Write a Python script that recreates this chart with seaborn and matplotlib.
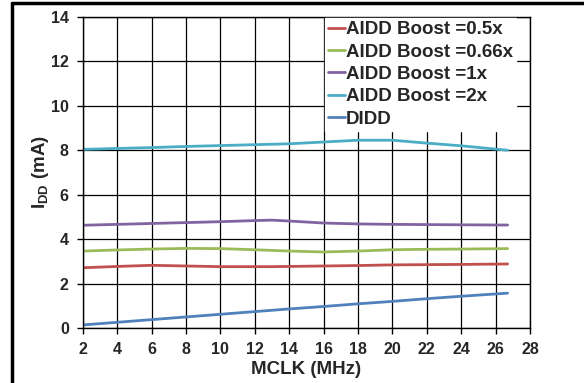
import matplotlib
matplotlib.use('Agg')
import matplotlib.pyplot as plt
import pandas as pd
import seaborn as sns

# MCLK (MHz) sample points and supply current (mA) per series
mclk = [2, 4, 6, 8, 10, 12, 13, 14, 16, 18, 20, 22, 24, 26.7]
boost_05 = [2.72, 2.78, 2.83, 2.80, 2.77, 2.77, 2.77, 2.78, 2.80, 2.82, 2.85, 2.86, 2.87, 2.89]
boost_066 = [3.47, 3.52, 3.56, 3.59, 3.58, 3.53, 3.50, 3.47, 3.43, 3.47, 3.53, 3.55, 3.56, 3.58]
boost_1 = [4.63, 4.67, 4.71, 4.75, 4.79, 4.84, 4.86, 4.82, 4.73, 4.69, 4.67, 4.66, 4.65, 4.64]
boost_2 = [8.04, 8.08, 8.12, 8.17, 8.21, 8.25, 8.27, 8.29, 8.37, 8.45, 8.45, 8.32, 8.20, 8.00]
didd = [0.15, 0.27, 0.39, 0.51, 0.63, 0.75, 0.81, 0.87, 0.98, 1.10, 1.21, 1.33, 1.44, 1.58]

SERIES = ['AIDD Boost =0.5x', 'AIDD Boost =0.66x', 'AIDD Boost =1x',
          'AIDD Boost =2x', 'DIDD']
COLORS = {
    'AIDD Boost =0.5x': '#C0504D', 'AIDD Boost =0.66x': '#9BBB59',
    'AIDD Boost =1x': '#8064A2', 'AIDD Boost =2x': '#4BACC6', 'DIDD': '#4F81BD',
}

rows = []
for name, vals in zip(SERIES, [boost_05, boost_066, boost_1, boost_2, didd]):
    for x, y in zip(mclk, vals):
        rows.append({'mclk': x, 'idd': y, 'series': name})
df = pd.DataFrame(rows)

sns.set_style('white')
plt.rcParams['font.family'] = ['Liberation Sans', 'DejaVu Sans']
plt.rcParams['font.weight'] = 'bold'
plt.rcParams['mathtext.fontset'] = 'custom'
plt.rcParams['mathtext.rm'] = 'Liberation Sans:bold'
plt.rcParams['mathtext.bf'] = 'Liberation Sans:bold'

fig = plt.figure(figsize=(5.84, 3.83), dpi=100)
ax = fig.add_axes([0.1416, 0.1428, 0.9075 - 0.1416, 0.9564 - 0.1428])

sns.lineplot(data=df, x='mclk', y='idd', hue='series', hue_order=SERIES,
             palette=COLORS, linewidth=2, ax=ax, legend=False)

ax.set_xlim(2, 28)
ax.set_ylim(0, 14)
ax.set_xticks(range(2, 29, 2))
ax.set_yticks(range(0, 15, 2))
ax.grid(True, color='black', linewidth=0.9)
ax.set_axisbelow(True)
for s in ax.spines.values():
    s.set_color('black')
    s.set_linewidth(1)
ax.tick_params(axis='both', direction='out', length=4, width=1, color='black',
               labelsize=11.5, left=True, bottom=True)
ax.tick_params(axis='x', pad=6)
ax.tick_params(axis='y', pad=6)
for lbl in ax.get_xticklabels() + ax.get_yticklabels():
    lbl.set_fontweight('bold')

ax.set_xlabel('MCLK (MHz)', fontsize=13.5, fontweight='bold', labelpad=3)
ax.set_ylabel(r'I$_{\mathrm{DD}}$ (mA)', fontsize=13.5, fontweight='bold', labelpad=0)

handles = [plt.Line2D([], [], color=COLORS[n], linewidth=2) for n in SERIES]
leg = ax.legend(handles, SERIES, loc='upper right', bbox_to_anchor=(0.968, 0.995),
                prop={'weight': 'bold', 'size': 13.5}, handlelength=0.9,
                handletextpad=0.05, labelspacing=0.28, borderpad=0.15,
                borderaxespad=0.0, frameon=True, fancybox=False, framealpha=1)
leg.get_frame().set_edgecolor('white')
leg.get_frame().set_facecolor('white')

# outer chart border: only left and top edges fall inside the image
x0 = 12 / 584
y1 = 1 - 2.5 / 383
fig.add_artist(plt.Line2D([x0, x0], [0, y1], transform=fig.transFigure,
                          color='black', linewidth=2.5))
fig.add_artist(plt.Line2D([x0, 1], [y1, y1], transform=fig.transFigure,
                          color='black', linewidth=2.5))

fig.savefig('out.png', dpi=100)
